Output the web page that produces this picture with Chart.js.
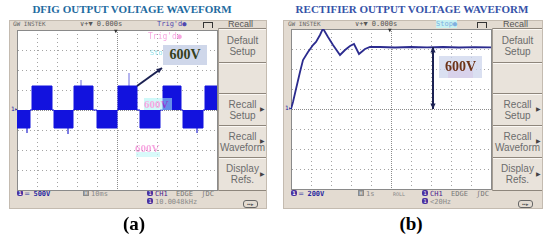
<!DOCTYPE html>
<html>
<head>
<meta charset="utf-8">
<script src="https://cdn.jsdelivr.net/npm/chart.js@4/dist/chart.umd.min.js"></script>
<style>
  body { margin: 0; width: 550px; height: 241px; background: #fff; position: relative; overflow: hidden; font-family: "Liberation Sans", Arial, sans-serif; }
  .abs { position: absolute; white-space: nowrap; }
  .title { font-family: "Liberation Serif", "Times New Roman", serif; font-weight: bold; font-size: 11px; transform: translateX(-50%); }
  .cap { font-family: "Liberation Serif", "Times New Roman", serif; font-weight: bold; font-size: 19px; color: #000; transform: translateX(-50%); }
  .scope { background: #e3dbd1; border: 1px solid #c4bbb0; box-sizing: border-box; }
  .plot { background: #fff; }
  .menu { background: #e9e3db; border-left: 1px solid #a69e94; box-sizing: border-box; }
  .btn { box-sizing: border-box; border-top: 1px solid #8e867c; box-shadow: inset 0 1px 0 #fbf8f4; color: #6c6c6c; font-size: 10px; line-height: 11px; text-align: center; display: flex; align-items: center; justify-content: center; position: relative; }
  .btn .tri { position: absolute; right: 1px; font-size: 6px; color: #444; }
  .st { font-size: 7px; color: #666; font-family: "DejaVu Sans Mono", monospace; }
  .badge { display: inline-block; background: #4b32a0; color: #fff; font-size: 5px; line-height: 6px; width: 6px; text-align: center; border-radius: 2px; margin-right: 2px; vertical-align: 1px; }
  .gbox { display: inline-block; background: #8a8a8a; color: #fff; font-size: 5px; line-height: 6px; width: 6px; text-align: center; margin-right: 2px; vertical-align: 1px; }
  .callout { font-family: "Liberation Serif", "Times New Roman", serif; font-weight: bold; font-size: 14px; text-align: center; }
  .ghost { font-family: "Liberation Serif", serif; font-weight: bold; font-size: 11px; color: #f060c8; opacity: 0.55; }
  .pulse { position: absolute; width: 8px; height: 5px; border: 1px solid #333; border-bottom: none; }
  .usb { position: absolute; width: 13px; height: 6px; border: 1px solid #666; border-radius: 3px; font-size: 5px; line-height: 6px; color: #555; text-align: center; }
</style>
</head>
<body>

<!-- titles -->
<div class="abs title" style="left:132px; top:3px; color:#226aa0;">DFIG OUTPUT VOLTAGE WAVEFORM</div>
<div class="abs title" style="left:412px; top:3px; color:#3552a8;">RECTIFIER OUTPUT VOLTAGE WAVEFORM</div>

<!-- left scope frame -->
<div class="abs scope" style="left:9px; top:20px; width:258px; height:189px;"></div>
<div class="abs plot" style="left:17px; top:30px; width:201px; height:161px;"></div>
<div class="abs st" style="left:13px; top:20px; font-size:6px;">GW INSTEK</div>
<div class="abs st" style="left:80px; top:20px; color:#555;">∨+▼ 0.000s</div>
<div class="abs st" style="left:157px; top:20px; color:#5048b0;">Trig'd●</div>
<div class="pulse" style="left:203px; top:22px;"></div>
<div class="abs" style="left:228px; top:19px; font-size:9px; color:#555;">Recall</div>
<div class="abs menu" style="left:218px; top:28px; width:48px; height:163px; display:flex; flex-direction:column;">
  <div class="btn" style="height:34px;">Default<br>Setup</div>
  <div class="btn" style="height:31px;"></div>
  <div class="btn" style="height:32px;">Recall<br>Setup<span class="tri">▶</span></div>
  <div class="btn" style="height:32px;">Recall<br>Waveform<span class="tri">▶</span></div>
  <div class="btn" style="height:34px; border-bottom:1px solid #8e867c;">Display<br>Refs.<span class="tri">▶</span></div>
</div>
<div class="abs st" style="left:11px; top:105px; color:#2020a0; font-size:6px;">1▸</div>
<div class="abs st" style="left:17px; top:190px; color:#2a2aa0; font-weight:bold;"><span class="badge">1</span>═ 500V</div>
<div class="abs st" style="left:83px; top:190px; color:#888;"><span class="gbox">H</span>10ms</div>
<div class="abs st" style="left:147px; top:190px; color:#777;"><span class="badge">1</span><span style="color:#4a2290;">CH1</span>&nbsp;&nbsp;EDGE&nbsp;&nbsp;ʃDC</div>
<div class="abs st" style="left:147px; top:198px; color:#888;"><span class="badge">1</span>10.0048kHz</div>
<div class="usb" style="left:243px; top:200px;">▪▪▸</div>

<!-- right scope frame -->
<div class="abs scope" style="left:283px; top:20px; width:260px; height:189px;"></div>
<div class="abs plot" style="left:291px; top:29px; width:201px; height:161px;"></div>
<div class="abs st" style="left:288px; top:20px; font-size:6px;">GW INSTEK</div>
<div class="abs st" style="left:355px; top:20px; color:#555;">∨+▼ 0.000s</div>
<div class="abs st" style="left:436px; top:20px; color:#7fb0e0; background:#c8f2f2;">Stop●</div>
<div class="pulse" style="left:477px; top:22px;"></div>
<div class="abs" style="left:503px; top:19px; font-size:9px; color:#555;">Recall</div>
<div class="abs menu" style="left:492px; top:28px; width:50px; height:163px; display:flex; flex-direction:column;">
  <div class="btn" style="height:34px;">Default<br>Setup</div>
  <div class="btn" style="height:31px;"></div>
  <div class="btn" style="height:32px;">Recall<br>Setup<span class="tri">▶</span></div>
  <div class="btn" style="height:32px;">Recall<br>Waveform<span class="tri">▶</span></div>
  <div class="btn" style="height:34px; border-bottom:1px solid #8e867c;">Display<br>Refs.<span class="tri">▶</span></div>
</div>
<div class="abs st" style="left:285px; top:104px; color:#2020a0; font-size:6px;">1▸</div>
<div class="abs st" style="left:291px; top:190px; color:#2a2aa0; font-weight:bold;"><span class="badge">1</span>═ 200V</div>
<div class="abs st" style="left:358px; top:190px; color:#888;"><span class="gbox">H</span>1s</div>
<div class="abs st" style="left:393px; top:191px; color:#888; font-size:5px;">ROLL</div>
<div class="abs st" style="left:422px; top:190px; color:#777;"><span class="badge">1</span><span style="color:#4a2290;">CH1</span>&nbsp;&nbsp;EDGE&nbsp;&nbsp;ʃDC</div>
<div class="abs st" style="left:422px; top:198px; color:#888;"><span class="badge">1</span>&lt;20Hz</div>
<div class="usb" style="left:518px; top:200px;">▪▪▸</div>

<!-- charts -->
<div class="abs" style="left:16px; top:29px; width:202px; height:162px;"><canvas id="dfig"></canvas></div>
<div class="abs" style="left:290px; top:28px; width:202px; height:162px;"><canvas id="rect"></canvas></div>

<!-- overlays on the plots -->
<div class="abs st" style="left:114px; top:27px; font-size:6px; color:#333;">▼</div>
<div class="abs st" style="left:388px; top:26px; font-size:6px; color:#333;">▼</div>
<div class="abs ghost" style="left:148px; top:32px; font-size:8px; font-family:'DejaVu Sans Mono',monospace; font-weight:normal;">Trig'd●</div>
<div class="abs ghost" style="left:150px; top:49px; font-size:7px; color:#30c8d8; font-family:'DejaVu Sans Mono',monospace; font-weight:normal;">Stop</div>
<div class="abs ghost" style="left:144px; top:98px; width:28px; background:#a8f4f4;">600V</div>
<div class="abs ghost" style="left:135px; top:142px;">600V</div>
<div class="abs" style="left:136px; top:152px; width:24px; height:5px; background:#c8f8f8; opacity:0.7;"></div>

<div class="abs callout" style="left:163px; top:45px; width:44px; height:20px; line-height:20px; background:#cfd7ea; color:#34401a;">600V</div>
<div class="abs" style="left:448px; top:68px; width:25px; height:10px; background:#f6c6e6;"></div>
<div class="abs callout" style="left:439px; top:56px; width:43px; height:22px; line-height:22px; background:rgba(205,214,236,0.75); color:#6e3418;">600V</div>

<div class="abs cap" style="left:134px; top:213px;">(a)</div>
<div class="abs cap" style="left:411px; top:213px;">(b)</div>

<script>
// DFIG output: quasi-square wave, time in ms (10 ms/div), volts (500 V/div)
const dfigTime = [0, 6.5, 7.5, 17.5, 18.5, 28, 28.5, 38, 40, 50, 50.5, 60, 61.5, 71.5, 73, 82, 83, 93, 94, 100];
const dfigVolt = [-450, 0, 600, 0, -450, 0, 600, 0, -450, 0, 600, 0, -450, 0, 600, 0, -450, 0, 600, 600];
// switching spikes on top of the pulses
const dfigSpikeTime = [5, 25.5, 32, 56, 90];
const dfigSpikeVolt = [-575, -600, 750, 925, -575];
const dfigXTicks = [0, 100, 10];
const dfigYTicks = [-2000, 2000, 500];

// Rectifier output: time in s (1 s/div), volts (200 V/div)
const rectTime = [0, 0.1, 0.25, 0.45, 0.6, 0.85, 1.1, 1.25, 1.45, 1.6, 1.85, 2.1, 2.45, 2.7, 2.95, 3.15, 3.4, 3.7, 3.95, 4.45, 5.2, 6, 6.8, 7.6, 8.4, 9.2, 10];
const rectVolt = [0, 70, 200, 370, 490, 570, 640, 670, 740, 805, 720, 640, 540, 590, 630, 650, 550, 600, 620, 620, 615, 620, 617, 620, 615, 619, 617];
const rectXTicks = [0, 10, 1];
const rectYTicks = [-800, 800, 200];

// arrows, in data units
const dfigArrows = [{ x0: 60, y0: 600, x1: 72.5, y1: 1050, heads: 1 }];
const rectArrows = [{ x0: 7.1, y0: 620, x1: 7.1, y1: 0, heads: 2 }];

function head(ctx, fx, fy, tx, ty) {
  const a = Math.atan2(ty - fy, tx - fx), l = 6;
  ctx.beginPath();
  ctx.moveTo(tx, ty);
  ctx.lineTo(tx - l * Math.cos(a - 0.45), ty - l * Math.sin(a - 0.45));
  ctx.lineTo(tx - l * Math.cos(a + 0.45), ty - l * Math.sin(a + 0.45));
  ctx.closePath();
  ctx.fill();
}

const arrowPlugin = {
  id: 'arrows',
  afterDatasetsDraw(chart, args, opts) {
    const { ctx, scales: { x, y } } = chart;
    ctx.save();
    ctx.strokeStyle = ctx.fillStyle = '#1b2152';
    ctx.lineWidth = 2;
    (opts.items || []).forEach(a => {
      const px0 = x.getPixelForValue(a.x0), py0 = y.getPixelForValue(a.y0);
      const px1 = x.getPixelForValue(a.x1), py1 = y.getPixelForValue(a.y1);
      ctx.beginPath();
      ctx.moveTo(px0, py0);
      ctx.lineTo(px1, py1);
      ctx.stroke();
      head(ctx, px0, py0, px1, py1);
      if (a.heads === 2) head(ctx, px1, py1, px0, py0);
    });
    ctx.restore();
  }
};

function scopeAxis(t) {
  const last = Math.round((t[1] - t[0]) / t[2]);
  const mid = last / 2;
  return {
    type: 'linear', min: t[0], max: t[1],
    ticks: { display: false, stepSize: t[2] },
    grid: {
      drawTicks: false, lineWidth: 1,
      color: c => (c.index === 0 || c.index === last) ? '#8a8a8a' : (c.index === mid ? '#8c8c8c' : '#a4a4a4')
    },
    border: {
      display: true, color: '#8a8a8a',
      dash: c => (c.index === 0 || c.index === last) ? [] : (c.index === mid ? [1, 1] : [1, 3])
    }
  };
}

function baseOptions(xt, yt, arrows) {
  return {
    responsive: true,
    maintainAspectRatio: false,
    animation: false,
    layout: { padding: 1 },
    scales: { x: scopeAxis(xt), y: scopeAxis(yt) },
    plugins: { legend: { display: false }, tooltip: { enabled: false }, arrows: { items: arrows } },
    elements: { point: { radius: 0 } }
  };
}

const spikePts = [];
dfigSpikeTime.forEach((t, i) => {
  spikePts.push({ x: t, y: 0 }, { x: t, y: dfigSpikeVolt[i] }, { x: t, y: null });
});

new Chart(document.getElementById('dfig'), {
  type: 'line',
  data: {
    datasets: [{
      data: dfigTime.map((t, i) => ({ x: t, y: dfigVolt[i] })),
      stepped: 'before',
      fill: 'origin',
      backgroundColor: '#1212de',
      borderColor: '#1212de',
      borderWidth: 1
    }, {
      data: spikePts,
      borderColor: '#6a6ae0',
      borderWidth: 1,
      spanGaps: false,
      fill: false
    }]
  },
  options: baseOptions(dfigXTicks, dfigYTicks, dfigArrows),
  plugins: [arrowPlugin]
});

new Chart(document.getElementById('rect'), {
  type: 'line',
  data: {
    datasets: [{
      data: rectTime.map((t, i) => ({ x: t, y: rectVolt[i] })),
      borderColor: '#2b2b8e',
      borderWidth: 1.8,
      fill: false,
      tension: 0
    }]
  },
  options: baseOptions(rectXTicks, rectYTicks, rectArrows),
  plugins: [arrowPlugin]
});
</script>
</body>
</html>
